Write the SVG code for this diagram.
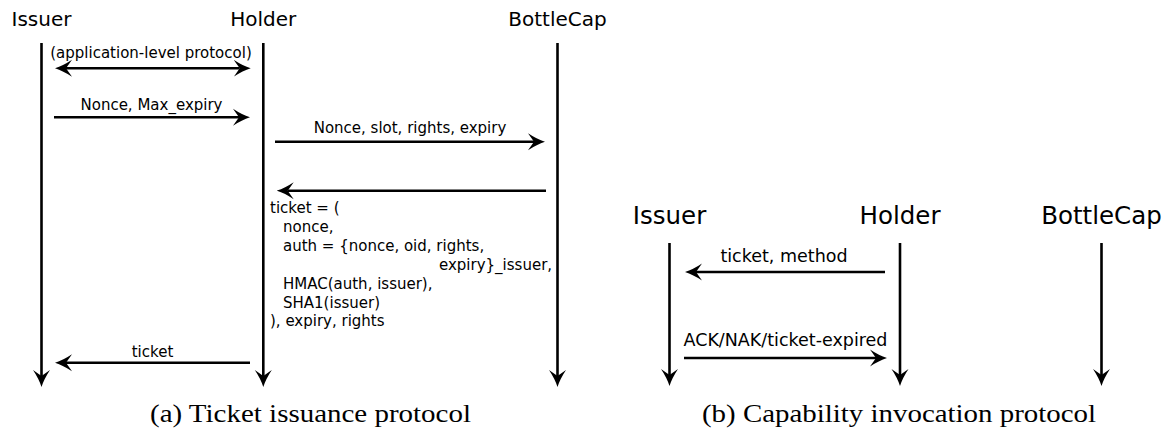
<svg xmlns="http://www.w3.org/2000/svg" width="1165" height="430" viewBox="0 0 1165 430">
<style>
  .hd { font-family: "DejaVu Sans", sans-serif; fill: #000; text-anchor: middle; }
  .ha { font-size: 20px; }
  .hb { font-size: 24.5px; }
  .la { font-family: "DejaVu Sans", sans-serif; font-size: 15px; fill: #000; }
  .lb { font-family: "DejaVu Sans", sans-serif; font-size: 17.5px; fill: #000; text-anchor: middle; }
  .mid { text-anchor: middle; }
  .cap { font-family: "Liberation Serif", serif; font-size: 25.5px; fill: #000; }
  .ln { stroke: #000; stroke-width: 2.6; fill: none; marker-end: url(#ah); }
  .dbl { marker-start: url(#ah); }
</style>
<defs>
  <marker id="ah" markerUnits="userSpaceOnUse" viewBox="0 -9 17 18" markerWidth="17" markerHeight="18" refX="6" refY="0" orient="auto-start-reverse">
    <path d="M0,-8.5 Q9,-2.5 17,0 Q9,2.5 0,8.5 L6,0 Z" fill="#000"/>
  </marker>
</defs>

<g id="a-issuer">
  <text class="hd ha" x="41.5" y="26">Issuer</text>
</g>
<g id="a-holder">
  <text class="hd ha" x="263.3" y="26">Holder</text>
</g>
<g id="a-bottlecap">
  <text class="hd ha" x="557.5" y="26">BottleCap</text>
</g>

<g id="b-issuer">
  <text class="hd hb" x="669.5" y="224">Issuer</text>
</g>
<g id="b-holder">
  <text class="hd hb" x="900" y="224">Holder</text>
</g>
<g id="b-bottlecap">
  <text class="hd hb" x="1101.5" y="224">BottleCap</text>
</g>

<g id="connectors">
  <!-- (a) lifelines -->
  <line class="ln" x1="41.5" y1="43" x2="41.5" y2="376"/>
  <line class="ln" x1="263.3" y1="43" x2="263.3" y2="376"/>
  <line class="ln" x1="557.5" y1="43" x2="557.5" y2="376"/>
  <!-- (a) messages -->
  <line class="ln dbl" x1="66" y1="68.3" x2="239.7" y2="68.3"/>
  <line class="ln" x1="54" y1="117.3" x2="239" y2="117.3"/>
  <line class="ln" x1="275" y1="141.7" x2="534" y2="141.7"/>
  <line class="ln" x1="546" y1="190.7" x2="287.7" y2="190.7"/>
  <line class="ln" x1="250" y1="362.7" x2="66" y2="362.7"/>
  <!-- (b) lifelines -->
  <line class="ln" x1="669.5" y1="243" x2="669.5" y2="375"/>
  <line class="ln" x1="900" y1="243" x2="900" y2="375"/>
  <line class="ln" x1="1101.5" y1="243" x2="1101.5" y2="375"/>
  <!-- (b) messages -->
  <line class="ln" x1="885" y1="272" x2="696" y2="272"/>
  <line class="ln" x1="684" y1="358" x2="876" y2="358"/>
</g>

<g id="labels">
  <text class="la mid" x="151" y="58">(application-level protocol)</text>
  <text class="la mid" x="151.5" y="110">Nonce, Max_expiry</text>
  <text class="la mid" x="410" y="133">Nonce, slot, rights, expiry</text>
  <text class="la" x="270" y="213">ticket = (</text>
  <text class="la" x="283" y="231.9">nonce,</text>
  <text class="la" x="283" y="250.8">auth = {nonce, oid, rights,</text>
  <text class="la" x="439" y="269.7">expiry}_issuer,</text>
  <text class="la" x="283" y="288.6">HMAC(auth, issuer),</text>
  <text class="la" x="283" y="307.5">SHA1(issuer)</text>
  <text class="la" x="270" y="326.4">), expiry, rights</text>
  <text class="la mid" x="152.5" y="356.5">ticket</text>
  <text class="lb" x="784" y="262">ticket, method</text>
  <text class="lb" x="785.5" y="346">ACK/NAK/ticket-expired</text>
</g>

<g id="captions">
  <text class="cap" x="150" y="422" textLength="321" lengthAdjust="spacingAndGlyphs">(a) Ticket issuance protocol</text>
  <text class="cap" x="702" y="422" textLength="394" lengthAdjust="spacingAndGlyphs">(b) Capability invocation protocol</text>
</g>
</svg>
